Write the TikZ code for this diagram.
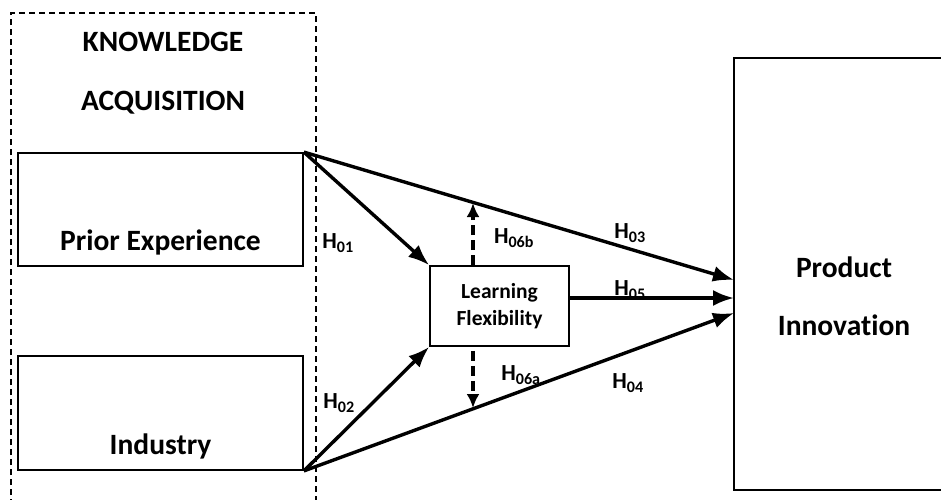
\documentclass[tikz,border=0pt]{standalone}
\usepackage{fontspec}
\setmainfont{Carlito}[Ligatures=NoCommon]
\usetikzlibrary{positioning, calc, arrows.meta}
\tikzstyle{Arrow} = [
line width=3.4pt,
-{Latex[length=21pt,width=16pt]}]
\tikzstyle{ArrowDash} = [
line width=3.2pt,
dash pattern=on 10pt off 5pt,
-{Latex[length=14pt,width=13pt]}]
\tikzstyle{Box} = [draw, line width=1.8pt, inner sep=0pt]
\tikzstyle{Hyp} = [font=\fontsize{23}{27}\selectfont\bfseries, inner sep=0pt]

\begin{document}
\begin{tikzpicture}[x=1pt, y=-1pt]
    \useasboundingbox (0,0) rectangle (941,499);
    \draw[line width=1.3pt, dash pattern=on 6pt off 4pt] (11,505) -- (11,13) -- (316,13) -- (316,505);
    \node [align=center, font=\fontsize{29.5}{59}\selectfont\bfseries] (0) at (163,73) {KNOWLEDGE\\ACQUISITION};

    \node [Box, minimum width=285pt, minimum height=113pt] (1) at (160.5,209.5) {};
    \node [Box, minimum width=285pt, minimum height=114pt] (2) at (160.5,413) {};
    \node [Box, minimum width=139pt, minimum height=80pt] (3) at (499.5,306) {};
    \node [Box, minimum width=208pt, minimum height=432pt] (4) at (838,274) {};

    \node [anchor=base, yshift=16pt, font=\fontsize{29.5}{34}\selectfont\bfseries] (1t) at (1.south) {Prior Experience};
    \node [anchor=base, yshift=16pt, font=\fontsize{29.5}{34}\selectfont\bfseries] (2t) at (2.south) {Industry};
    \node [align=center, font=\fontsize{21.5}{27}\selectfont\bfseries] (3t) at (3) {Learning\\Flexibility};
    \node [align=center, font=\fontsize{29.5}{58}\selectfont\bfseries] (4t) at (844,296) {Product\\Innovation};

    \coordinate (p1) at (734,280);
    \coordinate (p2) at (734,298);
    \coordinate (p3) at (734,313);
    \coordinate (q1) at (473,203);
    \coordinate (q2) at (473,408);

    \draw[Arrow] (1.north east) -- (3.north west);
    \draw[Arrow] (2.south east) -- (3.south west);
    \draw[Arrow] (1.north east) -- (p1);
    \draw[Arrow] (2.south east) -- (p3);
    \draw[Arrow] (3.east |- p2) -- (p2);
    \draw[ArrowDash] (3.north -| q1) -- (q1);
    \draw[ArrowDash] ($(3.south -| q2)+(0,4)$) -- (q2);

    \node [Hyp] (h1) at (338,243) {H\textsubscript{01}};
    \node [Hyp] (h2) at (339,403) {H\textsubscript{02}};
    \node [Hyp] (h3) at (630,233) {H\textsubscript{03}};
    \node [Hyp] (h4) at (628,383) {H\textsubscript{04}};
    \node [Hyp] (h5) at (630,290) {H\textsubscript{05}};
    \node [Hyp] (h6b) at (514,238) {H\textsubscript{06b}};
    \node [Hyp] (h6a) at (521,375) {H\textsubscript{06a}};
\end{tikzpicture}
\end{document}
